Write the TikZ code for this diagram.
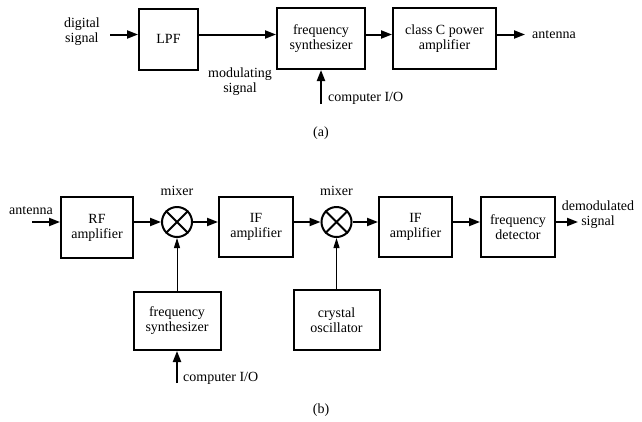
\documentclass[tikz,border=0pt]{standalone}
\usepackage{fontspec}
\setmainfont{Liberation Serif}
\usetikzlibrary{calc,positioning,arrows.meta}

\begin{document}
\begin{tikzpicture}[x=1pt,y=1pt,font=\fontsize{14}{15}\selectfont]

\tikzset{blockbox/.style={draw,line width=2pt,inner sep=0pt,align=center,minimum height=61pt},
sig/.style={line width=2pt,-{Triangle[length=11pt,width=8pt]}},
feed/.style={line width=1pt,-{Triangle[length=10pt,width=6pt]}},
mixer/.style={draw,circle,line width=2pt,minimum size=30pt,inner sep=0pt},
lbl/.style={inner sep=1pt,align=center}}

\useasboundingbox (0,0) rectangle (642,-421);

% Signal levels
\coordinate (rowA) at (0,-34.5);
\coordinate (rowB) at (0,-222);

% Transmitter blocks (a)
\node[blockbox,minimum width=59pt] (lpf) at (168.5,-39) {LPF};
\node[blockbox,minimum width=88pt] (synA) at (321,-38.5) {frequency\\synthesizer};
\node[blockbox,minimum width=103pt] (pa) at (444.5,-38.5) {class C power\\amplifier};

% Free ends (a)
\coordinate (digIn) at (110,-34.5);
\coordinate (antOut) at (525,-34.5);
\coordinate (ioA) at (321,-104);

% Labels (a)
\node[lbl,anchor=east] (digital) at ($(digIn)+(-9,3)$) {digital\\signal};
\node[lbl] (modsig) at (240,-82) {modulating\\signal};
\node[lbl,anchor=west] (compA) at ($(ioA)+(6,6)$) {computer I/O};
\node[lbl,anchor=west] (antA) at ($(antOut)+(6,0)$) {antenna};
\node (capA) at (321,-133) {(a)};

% Receiver blocks (b)
\node[blockbox,minimum width=72pt] (rf) at (97,-227.5) {RF\\amplifier};
\node[mixer] (mixA) at (177,-222) {};
\node[blockbox,minimum width=74pt,minimum height=60pt] (ifA) at (256,-227) {IF\\amplifier};
\node[mixer] (mixB) at (336.5,-222) {};
\node[blockbox,minimum width=73pt,minimum height=60pt] (ifB) at (415.5,-226.5) {IF\\amplifier};
\node[blockbox,minimum width=74pt,minimum height=60pt] (det) at (518,-227) {frequency\\detector};
\node[blockbox,minimum width=87pt,minimum height=58pt] (synB) at (177,-321) {frequency\\synthesizer};
\node[blockbox,minimum width=86pt,minimum height=60pt] (xtal) at (336.5,-320) {crystal\\oscillator};

% Free ends (b)
\coordinate (antIn) at (32,-222);
\coordinate (demOut) at (578,-222);
\coordinate (ioB) at (177,-383);

% Labels (b)
\node[lbl,anchor=south] (antB) at ($(antIn)+(-1,6)$) {antenna};
\node[lbl,above=9pt of mixA] (mixLblA) {mixer};
\node[lbl,above=9pt of mixB] (mixLblB) {mixer};
\node[lbl] (demod) at (598,-215) {demodulated\\signal};
\node[lbl,anchor=west] (compB) at ($(ioB)+(5,5)$) {computer I/O};
\node (capB) at (321,-410) {(b)};

% Mixer crosses
\foreach \m in {mixA,mixB} \draw[line width=2pt] (\m.45) -- (\m.225) (\m.135) -- (\m.315);

% Connectors (a)
\draw[sig] (digIn) -- (lpf.west |- rowA);
\draw[sig] (lpf.east |- rowA) -- (synA.west |- rowA);
\draw[sig] (synA.east |- rowA) -- (pa.west |- rowA);
\draw[sig] (pa.east |- rowA) -- (antOut);
\draw[sig] (ioA) -- (synA.south);

% Connectors (b)
\draw[sig] (antIn) -- (rf.west |- rowB);
\draw[sig] (rf.east |- rowB) -- (mixA);
\draw[sig] (mixA) -- (ifA.west |- rowB);
\draw[sig] (ifA.east |- rowB) -- (mixB);
\draw[sig] (mixB) -- (ifB.west |- rowB);
\draw[sig] (ifB.east |- rowB) -- (det.west |- rowB);
\draw[sig] (det.east |- rowB) -- (demOut);
\draw[feed] (synB) -- (mixA);
\draw[feed] (xtal) -- (mixB);
\draw[sig] (ioB) -- (synB.south);

\end{tikzpicture}
\end{document}
